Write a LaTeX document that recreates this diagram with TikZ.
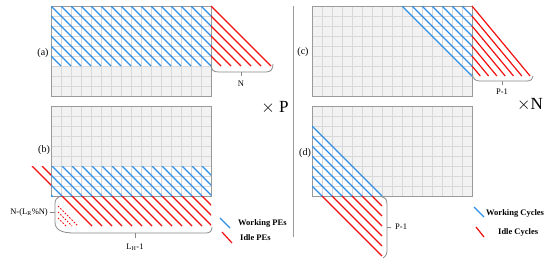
\documentclass[tikz,border=0pt]{standalone}
\usepackage{fontspec}
\setmainfont{Liberation Serif}
\definecolor{wblue}{HTML}{2E8FE6}
\definecolor{ired}{HTML}{F21010}
\definecolor{gfill}{HTML}{F2F2F2}
\definecolor{gline}{HTML}{D8D8D8}
\definecolor{gborder}{HTML}{9A9A9A}
\definecolor{brk}{HTML}{8A8A8A}
\tikzset{
  gridln/.style={gline, line width=0.6pt},
  gridbd/.style={gborder, line width=0.9pt},
  wb/.style={wblue, line width=1.2pt},
  ir/.style={ired, line width=1.2pt},
  brkt/.style={brk, line width=0.8pt},
  lbl/.style={inner sep=0pt, font=\fontsize{10}{12}\selectfont},
  small/.style={inner sep=0pt, font=\fontsize{8.5}{10}\selectfont},
  legend/.style={inner sep=0pt, anchor=west, font=\fontsize{8.5}{10}\selectfont\bfseries},
  big/.style={inner sep=0pt, font=\fontsize{17}{20}\selectfont},
}
\newcommand\gridbg[2]{\fill[gfill] (#1,#2) rectangle ++(160,90);}
\newcommand\gridlines[2]{%
  \foreach \i in {1,...,15}{\draw[gridln] ({#1+10*\i},#2) -- ++(0,90);}
  \foreach \j in {1,...,8}{\draw[gridln] (#1,{#2+10*\j}) -- ++(160,0);}
  \draw[gridbd] (#1,#2) rectangle ++(160,90);}
\begin{document}
\begin{tikzpicture}[x=1pt,y=-1pt]
\useasboundingbox (0,0) rectangle (550,263);
\fill[white] (0,0) rectangle (550,263);

% ---------- panel (a)
\gridbg{51}{6}
\fill[white] (51,6) rectangle (211,66);
\gridlines{51}{6}
\begin{scope}
  \clip (51,6) rectangle (211,66);
  \foreach \k in {-6,...,16}{\draw[wb] ({51+10*\k},6) -- ++(60,60);}
\end{scope}
\begin{scope}
  \clip (211,0) rectangle (300,66);
  \foreach \k in {10,...,16}{\draw[ir] ({51+10*\k},6) -- ++(60,60);}
\end{scope}
\draw[brkt] (211,64) .. controls (211,70) and (213,72) .. (219,72) -- (266,72) .. controls (271,72) and (273,69) .. (273,64);
\coordinate (ta) at (241,72);
\node[small] (na) at (241,84) {N};
\draw[brkt] (ta) -- ++(0,4);
\node[lbl] (la) at (43,53) {(a)};

% ---------- panel (b)
\gridbg{51}{106}
\fill[white] (51,166) rectangle (211,196);
\gridlines{51}{106}
\begin{scope}
  \clip (51,166) rectangle (211,196);
  \foreach \x in {22,32,...,202}{\draw[wb] (\x,166) -- ++(60,60);}
\end{scope}
\begin{scope}
  \clip (0,166) rectangle (51,196);
  \foreach \x in {32,42}{\draw[ir] (\x,166) -- ++(60,60);}
\end{scope}
\begin{scope}
  \clip (51,196) rectangle (211,226);
  \foreach \x in {32,42,...,202}{\draw[ir] (\x,166) -- ++(60,60);}
\end{scope}
\foreach \x in {18,12,6}{\draw[ir, line width=1pt, dash pattern=on 1.6pt off 1.6pt] (58,{224-\x}) -- ({\x+60},226);}
\draw[brkt] (61,196) .. controls (56,198) and (55,200) .. (55,204) -- (55,222) .. controls (55,230) and (62,233) .. (74,233) -- (206,233) .. controls (210,233) and (212,231) .. (212,227);
\coordinate (tb1) at (55,212);
\coordinate (tb2) at (135,233);
\draw[brkt] (tb1) -- ++(-5,0);
\draw[brkt] (tb2) -- ++(0,5);
\node[small, anchor=east] (nb1) at (48,212) {N-(L\textsubscript{R}\%N)};
\node[small] (nb2) at (135,247) {L\textsubscript{H}-1};
\node[lbl] (lb) at (44,150) {(b)};

% legend left
\coordinate (lw1) at (220,218); \coordinate (lw2) at (230,228);
\coordinate (li1) at (222,232); \coordinate (li2) at (232,243);
\draw[wb] (lw1) -- (lw2);
\draw[ir] (li1) -- (li2);
\node[legend] (tw) at (238,223) {Working PEs};
\node[legend] (ti) at (240,238) {Idle PEs};

\node[big] (xp) at (275,108) {$\times$ P};

% separator
\coordinate (s1) at (293,6); \coordinate (s2) at (293,237);
\draw[gborder, line width=0.8pt] (s1) -- (s2);

% ---------- panel (c)
\gridbg{312}{6}
\fill[white] (402,6) -- (472,6) -- (472,76) -- cycle;
\gridlines{312}{6}
\begin{scope}
  \clip (312,6) rectangle (472,96);
  \foreach \x in {402,412,...,462}{\draw[wb] (\x,6) -- ++(70,70);}
\end{scope}
\foreach \i in {0,...,6}{\draw[ir] (472,{6+10*\i}) -- ({472+0.83*(70-10*\i)},76);}
\draw[brkt] (472,73) .. controls (473,79) and (475,81) .. (480,81) -- (527,81) .. controls (531,81) and (533,79) .. (533,76);
\coordinate (tc) at (502,81);
\draw[brkt] (tc) -- ++(0,4);
\node[small] (nc) at (502,92) {P-1};
\node[lbl] (lc) at (303,52) {(c)};

\node[big] (xn) at (530,105) {$\times$N};

% ---------- panel (d)
\gridbg{312}{106}
\fill[white] (312,126) -- (382,196) -- (312,196) -- cycle;
\gridlines{312}{106}
\begin{scope}
  \clip (312,106) rectangle (472,196);
  \foreach \y in {126,136,...,186}{\draw[wb] (312,\y) -- ++(70,70);}
\end{scope}
\foreach \x in {322,332,...,372}{\draw[ir] (\x,196) -- (382,{578-\x});}
\draw[brkt] (382,197) .. controls (386,198) and (387,200) .. (387,205) -- (387,250) .. controls (387,254) and (386,256) .. (383,258);
\coordinate (td) at (387,227);
\draw[brkt] (td) -- ++(4,0);
\node[small, anchor=west] (nd) at (395,227) {P-1};
\node[lbl] (ld) at (305,153) {(d)};

% legend right
\coordinate (rw1) at (474,207); \coordinate (rw2) at (484,217);
\coordinate (ri1) at (476,227); \coordinate (ri2) at (484,237);
\draw[wb] (rw1) -- (rw2);
\draw[ir] (ri1) -- (ri2);
\node[legend] (rtw) at (486,213) {Working Cycles};
\node[legend] (rti) at (498,232) {Idle Cycles};
\end{tikzpicture}
\end{document}
